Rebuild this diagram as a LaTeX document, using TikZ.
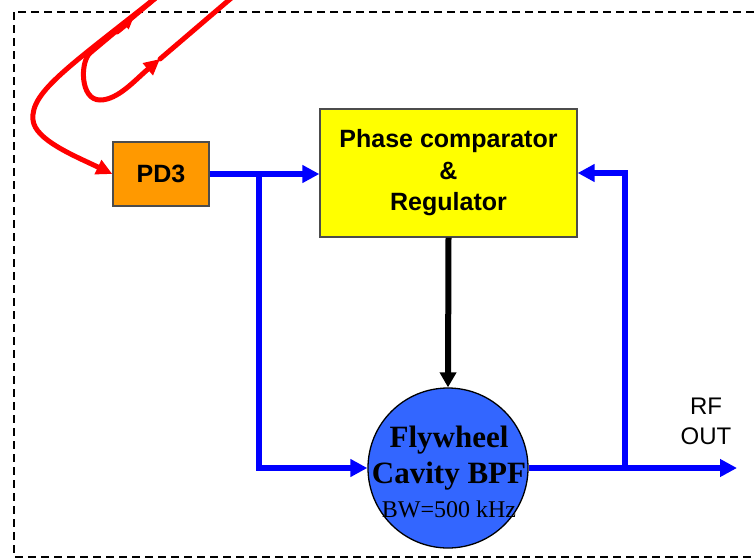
\documentclass[tikz,border=0pt]{standalone}
\usepackage{fontspec}
\setmainfont{Liberation Sans}
\newfontfamily\timesfont{Liberation Serif}
\usetikzlibrary{arrows.meta}
\definecolor{pdorange}{RGB}{255,153,0}
\definecolor{pcyellow}{RGB}{255,255,0}
\definecolor{cavblue}{RGB}{51,102,255}
\begin{document}
\begin{tikzpicture}[x=1pt,y=-1pt,
  blueline/.style={draw=blue, line width=6pt},
  bluearrow/.style={blueline, -{Triangle[length=17pt,width=17pt]}},
  blackarrow/.style={draw=black, line width=6pt, -{Triangle[length=15pt,width=16pt]}},
  redline/.style={draw=red, line width=5pt, line cap=round},
  redarrow/.style={redline, -{Triangle[length=16pt,width=15pt]}},
  boxstyle/.style={draw=black!70, line width=1.3pt, inner sep=0pt},
  lbl/.style={font=\bfseries\fontsize{25}{31.5}\selectfont, align=center},
  cavbold/.style={font=\timesfont\bfseries\fontsize{31}{36}\selectfont, inner sep=0pt, anchor=base},
  cavreg/.style={font=\timesfont\fontsize{24}{30}\selectfont, inner sep=0pt, anchor=base},
  frame/.style={draw=black, line width=1.5pt, dash pattern=on 8pt off 5pt}]
\useasboundingbox (0,0) rectangle (755,558);
\draw[frame] (14,12) rectangle (775,557);

% nodes
\node[boxstyle, fill=pdorange, minimum width=96pt, minimum height=64pt, lbl] (pd3) at (161,174) {PD3};
\node[boxstyle, fill=pcyellow, minimum width=257pt, minimum height=128pt, lbl] (pc) at (448.5,173) {Phase comparator\\\&\\Regulator};
\node[circle, draw=black, line width=1.3pt, fill=cavblue, minimum size=160pt, inner sep=0pt] (cav) at (448,468) {};
\node[cavbold] (t1) at (449,447) {Flywheel};
\node[cavbold] (t2) at (449,483) {Cavity BPF};
\node[cavreg] (t3) at (449,517) {BW=500 kHz};
\node[font=\fontsize{24}{30}\selectfont, align=center, inner sep=0pt] (rf) at (706,421.5) {RF\\OUT};

% coordinates
\coordinate (b1) at (259,174);
\coordinate (b2) at (625,468);
\coordinate (rfend) at (737,468);

% blue connectors
\draw[bluearrow] (pd3.east) -- (pd3.east -| pc.west);
\draw[bluearrow] (b1) |- (cav.west);
\draw[bluearrow] (cav.east) -- (rfend);
\draw[bluearrow] (b2) |- (pc.east);
\draw[blackarrow] (pc.south) -- (cav.north);

% red fibre curves
\coordinate (ra) at (158,-4);
\coordinate (rb) at (33,120);
\coordinate (rl) at (90,53);
\coordinate (rm) at (100,100);
\coordinate (rh) at (160,59);
\coordinate (rt) at (236,-6);
\coordinate (rs1) at (117,32);
\coordinate (rs2) at (133,19);
\draw[redarrow] (ra) .. controls (70,66) and (30,92) .. (rb)
  .. controls (35,140) and (75,156) .. (pd3.west);
\draw[redline] (ra) -- (rl);
\draw[redarrow] (rl) .. controls (80,62) and (80,100) .. (rm)
  .. controls (118,100) and (135,80) .. (rh);
\draw[redline] (rh) -- (rt);
\draw[redline, -{Triangle[length=10pt,width=10pt]}] (rs1) -- (rs2);
\end{tikzpicture}
\end{document}
